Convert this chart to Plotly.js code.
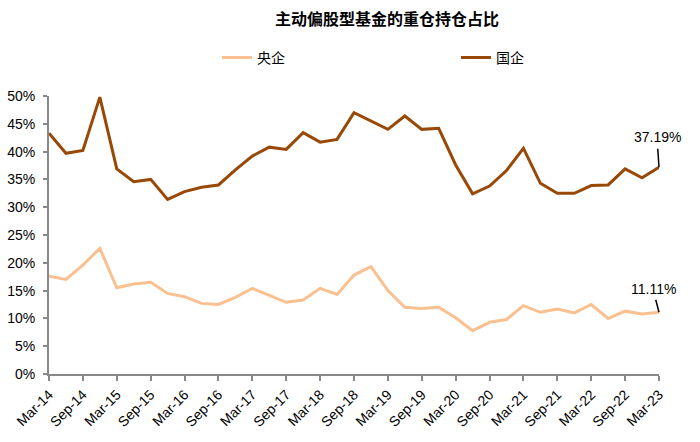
<!DOCTYPE html>
<html>
<head>
<meta charset="utf-8">
<script src="https://cdn.plot.ly/plotly-3.0.1.min.js"></script>
<style>
  html, body { margin: 0; padding: 0; background: #fff; }
  #chart { width: 700px; height: 442px; }
</style>
</head>
<body>
<div id="chart"></div>
<script>
// quarterly report dates
const quarters = [
  'Mar-14', 'Jun-14', 'Sep-14', 'Dec-14',
  'Mar-15', 'Jun-15', 'Sep-15', 'Dec-15',
  'Mar-16', 'Jun-16', 'Sep-16', 'Dec-16',
  'Mar-17', 'Jun-17', 'Sep-17', 'Dec-17',
  'Mar-18', 'Jun-18', 'Sep-18', 'Dec-18',
  'Mar-19', 'Jun-19', 'Sep-19', 'Dec-19',
  'Mar-20', 'Jun-20', 'Sep-20', 'Dec-20',
  'Mar-21', 'Jun-21', 'Sep-21', 'Dec-21',
  'Mar-22', 'Jun-22', 'Sep-22', 'Dec-22',
  'Mar-23'
];
// labelled ticks (every other quarter)
const tickLabels = [
  'Mar-14', 'Sep-14', 'Mar-15', 'Sep-15', 'Mar-16', 'Sep-16',
  'Mar-17', 'Sep-17', 'Mar-18', 'Sep-18', 'Mar-19', 'Sep-19',
  'Mar-20', 'Sep-20', 'Mar-21', 'Sep-21', 'Mar-22', 'Sep-22', 'Mar-23'
];
// 央企 share (%)
const centralSoe = [
  17.6, 17.0, 19.6, 22.6, 15.5, 16.2, 16.5, 14.5, 13.9, 12.7,
  12.5, 13.8, 15.4, 14.1, 12.9, 13.3, 15.4, 14.3, 17.8, 19.3,
  15.0, 12.0, 11.8, 12.0, 10.1, 7.8, 9.3, 9.8, 12.3, 11.1,
  11.7, 11.0, 12.5, 10.0, 11.3, 10.8, 11.11
];
// 国企 share (%)
const localSoe = [
  43.3, 39.7, 40.2, 49.8, 36.9, 34.6, 35.0, 31.4, 32.8, 33.6,
  34.0, 36.7, 39.2, 40.8, 40.4, 43.4, 41.7, 42.2, 47.0, 45.5,
  44.0, 46.4, 44.0, 44.2, 37.6, 32.4, 33.8, 36.6, 40.6, 34.3,
  32.5, 32.5, 33.9, 34.0, 36.9, 35.3, 37.19
];
const yTicks = [0, 5, 10, 15, 20, 25, 30, 35, 40, 45, 50];

const numFont = 'Liberation Sans, Arial, Noto Sans CJK SC, sans-serif';
const cjkFont = 'Noto Sans CJK SC, sans-serif';

const data = [{
  name: '央企',
  x: quarters,
  y: centralSoe.map(v => v / 100),
  mode: 'lines',
  line: { color: '#fac090', width: 3 },
}, {
  name: '国企',
  x: quarters,
  y: localSoe.map(v => v / 100),
  mode: 'lines',
  line: { color: '#984807', width: 3 },
}];

const last = quarters.length - 1;

const layout = {
  width: 700,
  height: 442,
  margin: { l: 49, r: 41, t: 96, b: 68, pad: 0 },
  paper_bgcolor: '#ffffff',
  plot_bgcolor: '#ffffff',
  font: { family: numFont, size: 14, color: '#000' },
  title: {
    text: '主动偏股型基金的重仓持仓占比',
    font: { family: cjkFont, size: 16, color: '#000', weight: 'bold' },
    x: 0.553,
    xanchor: 'center',
    xref: 'container',
    y: 0.955,
    yanchor: 'middle',
    yref: 'container',
  },
  showlegend: true,
  legend: {
    orientation: 'h',
    xref: 'container',
    yref: 'container',
    x: 0.31,
    xanchor: 'left',
    y: 0.869,
    yanchor: 'middle',
    entrywidth: 194,
    entrywidthmode: 'pixels',
    font: { family: cjkFont, size: 14, color: '#000' },
    bgcolor: 'rgba(0,0,0,0)',
  },
  xaxis: {
    type: 'category',
    range: [0, last],
    tickmode: 'array',
    tickvals: tickLabels,
    ticktext: tickLabels,
    tickangle: -45,
    ticks: 'outside',
    ticklen: 5,
    tickwidth: 2,
    tickcolor: '#898989',
    showline: true,
    linecolor: '#898989',
    linewidth: 2,
    showgrid: false,
    zeroline: false,
    tickfont: { family: numFont, size: 14, color: '#000' },
  },
  yaxis: {
    range: [0, 0.5],
    tickmode: 'array',
    tickvals: yTicks.map(v => v / 100),
    ticktext: yTicks.map(v => v + '%'),
    ticks: 'outside',
    ticklen: 4,
    tickwidth: 2,
    tickcolor: '#898989',
    ticklabelstandoff: 5,
    showline: true,
    linecolor: '#898989',
    linewidth: 2,
    showgrid: false,
    zeroline: false,
    tickfont: { family: numFont, size: 14, color: '#000' },
  },
  annotations: [{
    x: quarters[last],
    y: localSoe[last] / 100,
    xref: 'x',
    yref: 'y',
    text: localSoe[last].toFixed(2) + '%',
    showarrow: true,
    arrowhead: 0,
    arrowwidth: 1.5,
    arrowcolor: '#000',
    ax: -2,
    ay: -30,
    borderpad: 3,
    font: { family: numFont, size: 14, color: '#000' },
  }, {
    x: quarters[last],
    y: centralSoe[last] / 100,
    xref: 'x',
    yref: 'y',
    text: centralSoe[last].toFixed(2) + '%',
    showarrow: true,
    arrowhead: 0,
    arrowwidth: 1.5,
    arrowcolor: '#000',
    ax: -6,
    ay: -23,
    borderpad: 2,
    font: { family: numFont, size: 14, color: '#000' },
  }],
};

const config = { staticPlot: true, displayModeBar: false };

Plotly.newPlot('chart', data, layout, config);
</script>
</body>
</html>
